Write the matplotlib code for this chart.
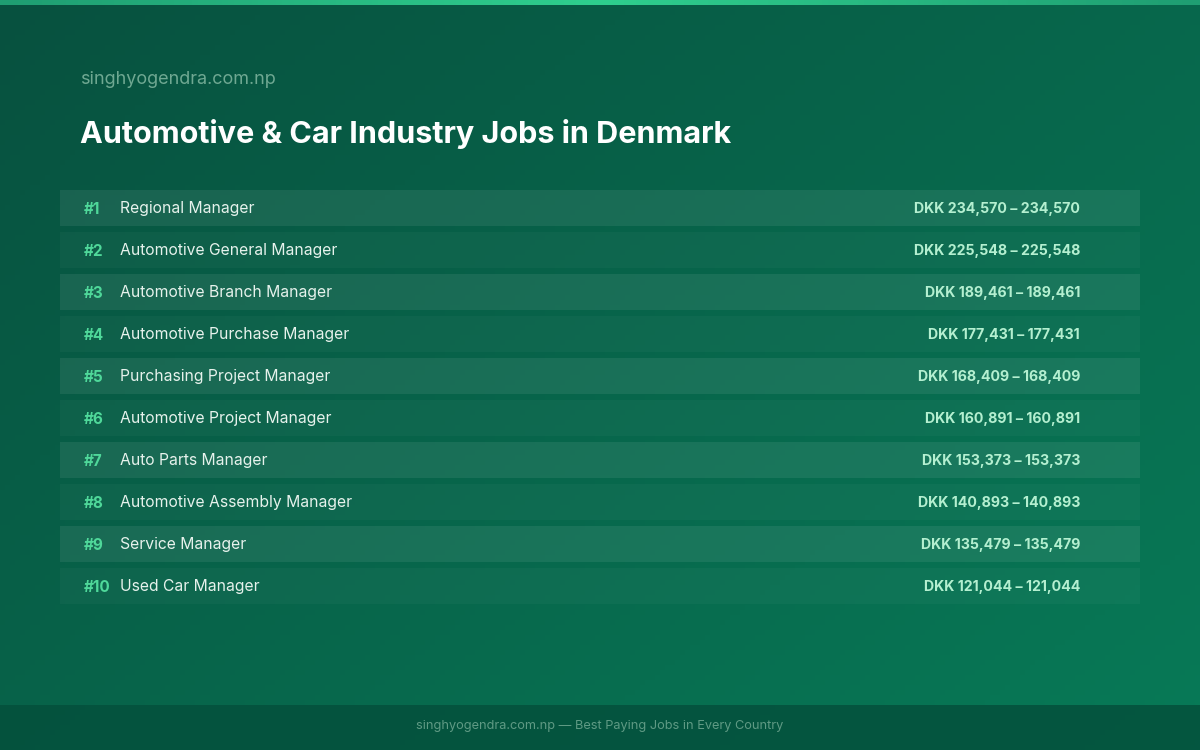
import matplotlib.pyplot as plt
import numpy as np
from matplotlib.colors import LinearSegmentedColormap

jobs = ["Regional Manager", "Automotive General Manager", "Automotive Branch Manager",
        "Automotive Purchase Manager", "Purchasing Project Manager", "Automotive Project Manager",
        "Auto Parts Manager", "Automotive Assembly Manager", "Service Manager", "Used Car Manager"]
low = [234570, 225548, 189461, 177431, 168409, 160891, 153373, 140893, 135479, 121044]
high = [234570, 225548, 189461, 177431, 168409, 160891, 153373, 140893, 135479, 121044]

plt.rcParams['font.family'] = ['Inter', 'DejaVu Sans']

fig = plt.figure(figsize=(12, 7.5), dpi=100)
ax = fig.add_axes([0, 0, 1, 1])
ax.set_xlim(0, 1200)
ax.set_ylim(750, 0)
ax.axis('off')

# diagonal gradient background
cmap = LinearSegmentedColormap.from_list('bg', ['#07513f', '#087a57'])
gx, gy = np.meshgrid(np.linspace(0, 1, 240), np.linspace(0, 1, 150))
ax.imshow(gx * 0.55 + gy * 0.45, cmap=cmap, extent=(0, 1200, 750, 0), aspect='auto', zorder=0)

# top accent stripe and footer band
top = LinearSegmentedColormap.from_list('top', ['#1f9e72', '#2fcf8e', '#1f9e72'])
ax.imshow(np.linspace(0, 1, 200)[None, :], cmap=top, extent=(0, 1200, 5, 0), aspect='auto', zorder=1)
ax.axhspan(705, 750, color='#04503c', alpha=0.85, zorder=1, lw=0)

ax.text(80, 79, "singhyogendra.com.np", color='#6fa892', fontsize=13, va='center', zorder=3)
ax.text(80, 134, "Automotive & Car Industry Jobs in Denmark", color='white', fontsize=22,
        fontweight='bold', va='center', zorder=3)

ys = 208 + 42 * np.arange(len(jobs))
alphas = [0.075 if i % 2 == 0 else 0.03 for i in range(len(jobs))]
for i, y in enumerate(ys):
    ax.barh(y, 1080, left=60, height=36, color='white', alpha=alphas[i], zorder=2, lw=0)
    ax.text(84, y + 1.5, f"#{i + 1}", color='#4fd89a', fontsize=11, fontweight='bold', va='center', zorder=3)
    ax.text(120, y + 1, jobs[i], color='#e6f2ec', fontsize=11.3, va='center', zorder=3)
    ax.text(1080, y + 1, f"DKK {low[i]:,} – {high[i]:,}", color='#b4efd0', fontsize=10.2,
            fontweight='bold', va='center', ha='right', zorder=3)

ax.text(600, 726, "singhyogendra.com.np — Best Paying Jobs in Every Country", color='#5f9a84',
        fontsize=9.2, ha='center', va='center', zorder=3)

fig.savefig('out.png', dpi=100)
